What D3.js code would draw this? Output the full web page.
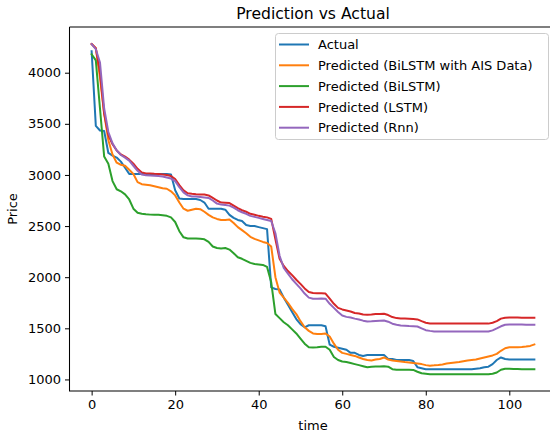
<!DOCTYPE html>
<html>
<head>
<meta charset="utf-8">
<script src="https://cdn.jsdelivr.net/npm/d3@7"></script>
<style>
  body { margin: 0; background: #fff; }
  svg { display: block; font-family: "DejaVu Sans", sans-serif; }
</style>
</head>
<body>
<svg id="chart" width="550" height="434"></svg>
<script>
// time steps 0..106
const actual = [
  4210, 3480, 3435, 3430, 3215, 3190, 3170, 3130, 3070, 3010,
  3010, 3010, 3010, 3010, 3010, 3010, 3010, 3010, 3010, 3005,
  2850, 2770, 2765, 2765, 2765, 2765, 2755, 2730, 2670, 2670,
  2670, 2670, 2660, 2610, 2580, 2560, 2550, 2510, 2500, 2500,
  2490, 2480, 2470, 1900, 1885, 1880, 1800, 1730, 1660, 1590,
  1540, 1510, 1530, 1530, 1530, 1530, 1520, 1340, 1320, 1310,
  1300, 1290, 1260, 1260, 1240, 1230, 1240, 1240, 1240, 1240,
  1240, 1200, 1200, 1190, 1190, 1190, 1190, 1180, 1120, 1110,
  1100, 1100, 1100, 1100, 1100, 1100, 1100, 1100, 1100, 1100,
  1100, 1100, 1105, 1110, 1120, 1125, 1150, 1190, 1215, 1200,
  1195, 1195, 1195, 1195, 1195, 1195, 1195
];
const predAis = [
  4280, 4240, 3950, 3600, 3340, 3200, 3120, 3100, 3090, 3050,
  3010, 2930, 2910, 2905, 2900, 2890, 2880, 2870, 2865, 2840,
  2800, 2730, 2670, 2650, 2660, 2670, 2665, 2640, 2610, 2585,
  2570, 2560, 2560, 2565, 2530, 2490, 2460, 2430, 2395, 2375,
  2360, 2345, 2335, 2300, 2000, 1850, 1800, 1750, 1690, 1640,
  1570, 1510, 1475, 1450, 1445, 1445, 1450, 1420, 1350, 1290,
  1260, 1250, 1240, 1230, 1215, 1200, 1190, 1185, 1195, 1200,
  1215, 1195, 1185, 1180, 1175, 1170, 1166, 1160, 1156, 1150,
  1140, 1135, 1138, 1142, 1147, 1155, 1160, 1165, 1170, 1178,
  1185, 1190, 1195, 1205, 1215, 1225, 1235, 1250, 1280, 1305,
  1315, 1315, 1315, 1318, 1322, 1328, 1342
];
const predBilstm = [
  4180, 4120, 3650, 3180, 3110, 2940, 2860, 2840, 2810, 2760,
  2670, 2630, 2620, 2615, 2612, 2610, 2610, 2605, 2600, 2585,
  2540, 2450, 2390, 2378, 2378, 2378, 2375, 2370, 2345, 2300,
  2285, 2280, 2285, 2270, 2235, 2195, 2180, 2160, 2140, 2130,
  2125, 2120, 2100, 1950, 1640, 1600, 1560, 1530, 1490, 1450,
  1400, 1350, 1315, 1313, 1315, 1320, 1320, 1290, 1220, 1190,
  1175, 1170, 1160, 1150, 1140, 1130, 1120, 1125, 1127, 1127,
  1128, 1125, 1100, 1095, 1095, 1095, 1095, 1093, 1075, 1060,
  1055, 1050, 1050, 1050, 1050, 1050, 1050, 1050, 1050, 1050,
  1050, 1050, 1050, 1050, 1050, 1050, 1055, 1068, 1095, 1105,
  1105, 1103, 1102, 1100, 1100, 1100, 1100
];
const predLstm = [
  4280, 4240, 4000, 3600, 3390, 3300, 3240, 3200, 3180, 3150,
  3110, 3060, 3025, 3015, 3015, 3012, 3010, 3005, 3000, 2990,
  2960, 2900, 2850, 2820, 2815, 2812, 2810, 2808, 2800, 2775,
  2750, 2730, 2728, 2725, 2700, 2675, 2655, 2640, 2620, 2610,
  2600, 2592, 2585, 2570, 2370, 2180, 2110, 2060, 2020, 1975,
  1935, 1890, 1855, 1845, 1842, 1842, 1840, 1790, 1740, 1700,
  1685, 1675, 1665, 1650, 1645, 1635, 1632, 1635, 1640, 1640,
  1643, 1630, 1610, 1600, 1596, 1595, 1593, 1590, 1587, 1570,
  1555, 1548, 1546, 1546, 1546, 1546, 1546, 1546, 1546, 1546,
  1546, 1546, 1546, 1546, 1546, 1546, 1555, 1570, 1595, 1604,
  1606, 1605, 1605, 1604, 1604, 1603, 1603
];
const predRnn = [
  4280, 4230, 4100, 3650, 3420, 3310, 3240, 3195, 3170, 3140,
  3090, 3040, 3005, 2998, 2995, 2993, 2990, 2985, 2975, 2965,
  2940, 2880, 2830, 2800, 2790, 2790, 2785, 2780, 2775, 2750,
  2720, 2710, 2705, 2700, 2680, 2655, 2635, 2620, 2600, 2590,
  2580, 2570, 2560, 2550, 2430, 2210, 2090, 2035, 1980, 1935,
  1890, 1840, 1800, 1790, 1790, 1792, 1790, 1740, 1700, 1660,
  1625, 1612, 1605, 1595, 1587, 1575, 1567, 1568, 1572, 1575,
  1577, 1565, 1545, 1535, 1528, 1525, 1522, 1520, 1518, 1500,
  1482, 1475, 1470, 1469, 1469, 1469, 1469, 1469, 1469, 1469,
  1469, 1469, 1469, 1469, 1469, 1469, 1480, 1499, 1520, 1535,
  1538, 1538, 1537, 1537, 1536, 1536, 1536
];

const seriesNames = ['Actual', 'Predicted (BiLSTM with AIS Data)', 'Predicted (BiLSTM)', 'Predicted (LSTM)', 'Predicted (Rnn)'];
const seriesColors = ['#1f77b4', '#ff7f0e', '#2ca02c', '#d62728', '#9467bd'];
const xTicks = [0, 20, 40, 60, 80, 100];
const yTicks = [1000, 1500, 2000, 2500, 3000, 3500, 4000];

const allSeries = [actual, predAis, predBilstm, predLstm, predRnn];

const plotLeft = 69.5, plotRight = 556.5, plotTop = 27, plotBottom = 391;
const svg = d3.select('#chart');

const x = d3.scaleLinear().domain([-5.3, 111.3]).range([plotLeft, plotRight]);
const y = d3.scaleLinear().domain([887, 4447]).range([plotBottom, plotTop]);

//lines
const line = d3.line()
  .x((d, i) => x(i))
  .y(d => y(d));

svg.append('g')
  .selectAll('path')
  .data(allSeries)
  .enter().append('path')
  .attr('d', d => line(d))
  .style('fill', 'none')
  .style('stroke', (d, i) => seriesColors[i])
  .style('stroke-width', 2)
  .style('stroke-linejoin', 'round')
  .style('stroke-linecap', 'square');

//axes
const xAxis = svg.append('g')
  .attr('transform', `translate(0,${plotBottom})`)
  .call(d3.axisBottom(x).tickValues(xTicks).tickSize(4.5).tickPadding(4).tickSizeOuter(0));
const yAxis = svg.append('g')
  .attr('transform', `translate(${plotLeft},0)`)
  .call(d3.axisLeft(y).tickValues(yTicks).tickSize(4.5).tickPadding(4).tickFormat(d3.format('d')).tickSizeOuter(0));

[xAxis, yAxis].forEach(a => {
  a.select('.domain').remove();
  a.selectAll('text')
    .style('font-family', '"DejaVu Sans", sans-serif')
    .style('font-size', '13px')
    .style('fill', '#000');
  a.selectAll('line').style('stroke', '#000').style('stroke-width', 1);
});

// spines
svg.append('path')
  .attr('d', `M${plotLeft},${plotTop}H${plotRight}M${plotLeft},${plotTop}V${plotBottom}H${plotRight}M${plotRight},${plotTop}V${plotBottom}`)
  .style('fill', 'none')
  .style('stroke', '#000')
  .style('stroke-width', 1.05);

svg.append('text')
  .attr('x', (plotLeft + plotRight) / 2)
  .attr('y', 18.5)
  .attr('text-anchor', 'middle')
  .style('font-size', '15.6px')
  .text('Prediction vs Actual');

svg.append('text')
  .attr('x', (plotLeft + plotRight) / 2)
  .attr('y', 430)
  .attr('text-anchor', 'middle')
  .style('font-size', '13px')
  .text('time');

svg.append('text')
  .attr('transform', `translate(17,${(plotTop + plotBottom) / 2}) rotate(-90)`)
  .attr('text-anchor', 'middle')
  .style('font-size', '13px')
  .text('Price');

//legend
const legend = svg.append('g');
legend.append('rect')
  .attr('x', 275.5)
  .attr('y', 33.5)
  .attr('width', 273)
  .attr('height', 106)
  .attr('rx', 3)
  .style('fill', '#fff')
  .style('fill-opacity', 0.8)
  .style('stroke', '#cccccc')
  .style('stroke-width', 1);

const rows = legend.selectAll('.row')
  .data(seriesNames)
  .enter().append('g')
  .attr('class', 'row')
  .attr('transform', (d, i) => `translate(0,${44.5 + i * 20.8})`);
rows.append('line')
  .attr('x1', 279)
  .attr('x2', 309)
  .style('stroke', (d, i) => seriesColors[i])
  .style('stroke-width', 2);
rows.append('text')
  .attr('x', 318)
  .attr('dy', '0.36em')
  .style('font-size', '13px')
  .text(d => d);
</script>
</body>
</html>
